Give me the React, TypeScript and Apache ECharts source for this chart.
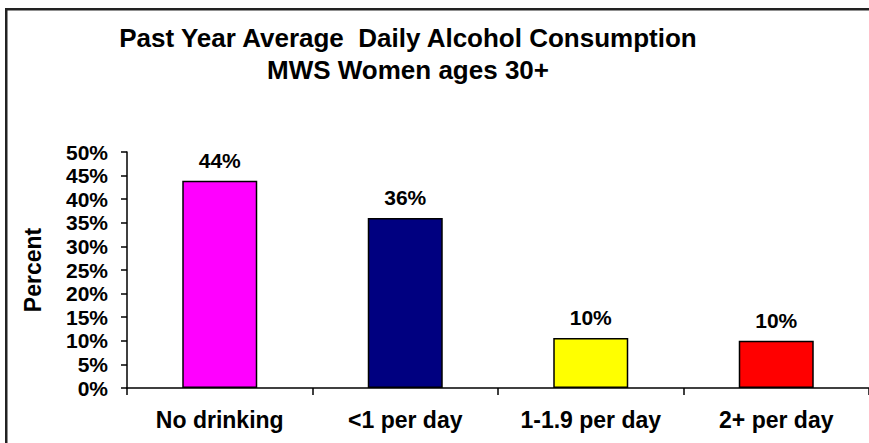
import React, { useEffect, useRef } from "react";
import * as echarts from "echarts";

const categories = ["No drinking", "<1 per day", "1-1.9 per day", "2+ per day"];
const values = [43.9, 36.0, 10.6, 10.0];
const valueLabels = ["44%", "36%", "10%", "10%"];
const barColors = ["#FF00FF", "#000080", "#FFFF00", "#FF0000"];
const titleLines = ["Past Year Average  Daily Alcohol Consumption", "MWS Women ages 30+"];

const FONT = "'Liberation Sans', Arial, sans-serif";

export default function App() {
  const ref = useRef<HTMLDivElement>(null);
  useEffect(() => {
    if (!ref.current) return;
    document.documentElement.style.overflow = "hidden";
    document.body.style.overflow = "hidden";
    document.body.style.margin = "0";
    const chart = echarts.init(ref.current, undefined, { renderer: "svg" });
    chart.setOption({
      animation: false,
      backgroundColor: "#ffffff",
      title: {
        text: titleLines.join("\n"),
        left: 403,
        top: 17,
        textAlign: "center",
        textStyle: {
          fontFamily: FONT,
          fontWeight: "bold",
          fontSize: 26,
          lineHeight: 32,
          color: "#000",
        },
      },
      graphic: [
        { type: "rect", shape: { x: 5, y: 8, width: 2.5, height: 440 }, style: { fill: "#222" } },
        { type: "rect", shape: { x: 5, y: 8, width: 864, height: 2.5 }, style: { fill: "#222" } },
      ],
      grid: { left: 127, top: 152, width: 744, height: 236 },
      xAxis: {
        type: "category",
        data: categories,
        axisLine: { lineStyle: { color: "#000", width: 1.5 } },
        axisTick: { show: true, alignWithLabel: false, length: 7, lineStyle: { color: "#000", width: 1.5 } },
        axisLabel: {
          fontFamily: FONT,
          fontWeight: "bold",
          fontSize: 23,
          color: "#000",
          margin: 20,
          interval: 0,
        },
      },
      yAxis: {
        type: "value",
        min: 0,
        max: 50,
        interval: 5,
        name: "Percent",
        nameLocation: "middle",
        nameRotate: 90,
        nameGap: 83,
        nameTextStyle: { fontFamily: FONT, fontWeight: "bold", fontSize: 23, color: "#000" },
        splitLine: { show: false },
        axisLine: { show: true, lineStyle: { color: "#000", width: 1.5 } },
        axisTick: { show: true, length: 6, lineStyle: { color: "#000", width: 1.5 } },
        axisLabel: {
          fontFamily: FONT,
          fontWeight: "bold",
          fontSize: 21,
          color: "#000",
          margin: 19,
          formatter: (v: number) => `${v}%`,
        },
      },
      series: [
        {
          type: "bar",
          barWidth: 75,
          data: values.map((v, i) => ({
            value: v,
            itemStyle: { color: barColors[i], borderColor: "#000", borderWidth: 1.5 },
            label: { formatter: valueLabels[i] },
          })),
          label: {
            show: true,
            position: "top",
            distance: 10,
            fontFamily: FONT,
            fontWeight: "bold",
            fontSize: 21,
            color: "#000",
          },
        },
      ],
    });
    return () => chart.dispose();
  }, []);
  return (
    <div
      ref={ref}
      style={{ position: "fixed", left: 0, top: 0, width: 869, height: 443, background: "#fff", overflow: "hidden" }}
    />
  );
}
